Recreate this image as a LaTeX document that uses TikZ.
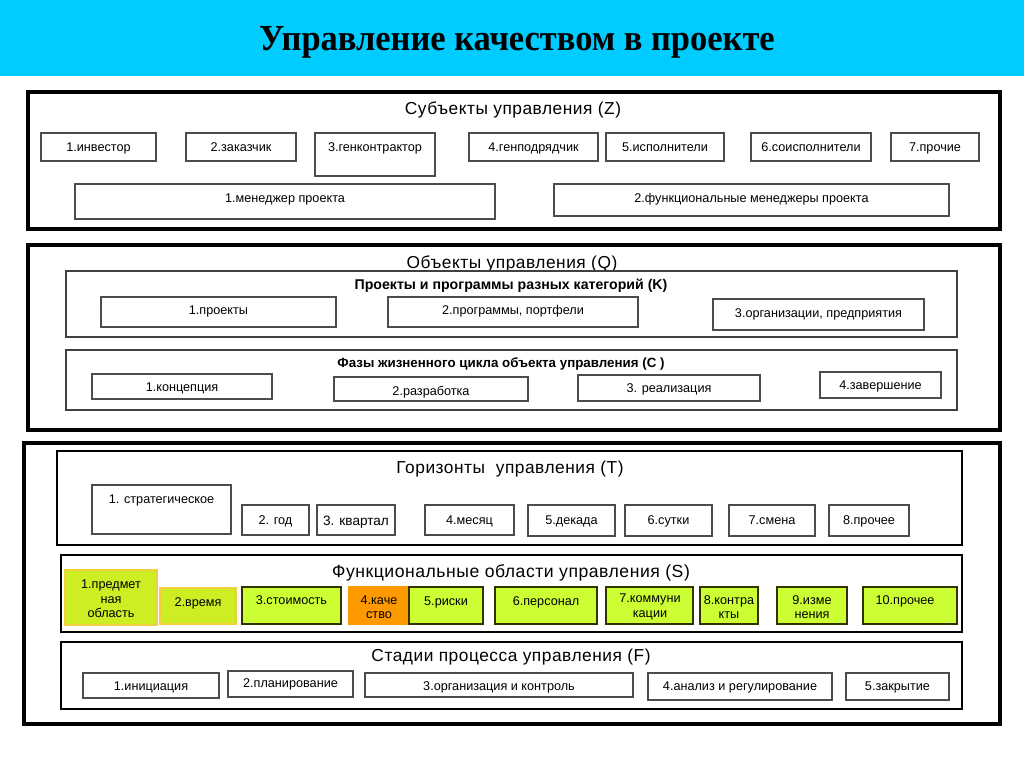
\documentclass[tikz,border=0pt]{standalone}
\usepackage{fontspec}
\setmainfont{Liberation Sans}
\newfontfamily\titlefont{Liberation Serif}
\newfontfamily\hdfont[LetterSpace=3]{Liberation Sans}
\usetikzlibrary{fit}
\definecolor{cyanbar}{HTML}{00CCFF}
\definecolor{limeA}{HTML}{CCFF33}
\definecolor{limeB}{HTML}{CCEE22}
\definecolor{limeBorder}{HTML}{333300}
\definecolor{yelBorder}{HTML}{F0D040}
\definecolor{orng}{HTML}{FF9900}
\tikzset{
  frame/.style={draw=black, line width=3pt, inner sep=0pt},
  midframe/.style={draw=black, line width=2.2pt, inner sep=0pt},
  thinframe/.style={draw=black!75, line width=0.9pt, inner sep=0pt},
  box/.style={draw=black!70, line width=0.9pt, inner sep=0pt, fill=white},
  gbox/.style={draw=limeBorder, line width=0.9pt, inner sep=0pt, fill=limeA},
  ybox/.style={draw=yelBorder, line width=0.9pt, inner sep=0pt, fill=limeB},
  obox/.style={draw=orng, line width=0.9pt, inner sep=0pt, fill=orng},
  lbl/.style={font=\fontsize{9.5}{10.9}\selectfont, anchor=base, inner sep=0pt, align=center},
  mlbl/.style={font=\fontsize{9.5}{10.9}\selectfont, anchor=center, inner sep=0pt, align=center},
  hd/.style={font=\hdfont\fontsize{13}{15}\selectfont, anchor=base, inner sep=0pt},
  subhd/.style={font=\bfseries\fontsize{10}{12}\selectfont, anchor=base, inner sep=0pt},
}
% name, x1, y1, x2, y2, text baseline y, text
\newcommand\bx[8][box]{%
  \node[#1, fit={(#3,#4)(#5,#6)}] (#2) {};
  \node[lbl] (#2-t) at ({(#3+#5)/2},#7) {#8};}
\begin{document}
\begin{tikzpicture}[x=0.75pt,y=-0.75pt]
\useasboundingbox (0,0) rectangle (1024,767);
\fill[white] (0,0) rectangle (1024,767);
\fill[cyanbar] (0,0) rectangle (1024,76);
\node[font=\titlefont\bfseries\fontsize{27.5}{30}\selectfont, anchor=base, inner sep=0pt] (title) at (517,51) {\scalebox{0.94}[1]{Управление качеством в проекте}};

% ---- Субъекты
\node[frame, fit={(28,92)(1000,229)}] (fZ) {};
\node[hd] (hZ) at (513,114) {Субъекты управления (Z)};
\bx{z1}{41}{133}{156}{161}{151}{1.инвестор}
\bx{z2}{186}{133}{296}{161}{151}{2.заказчик}
\bx{z3}{315}{133}{435}{176}{151}{3.генконтрактор}
\bx{z4}{469}{133}{598}{161}{151}{4.генподрядчик}
\bx{z5}{606}{133}{724}{161}{151}{5.исполнители}
\bx{z6}{751}{133}{871}{161}{151}{6.соисполнители}
\bx{z7}{891}{133}{979}{161}{151}{7.прочие}
\bx{m1}{75}{184}{495}{219}{202}{1.менеджер проекта}
\bx{m2}{554}{184}{949}{216}{202}{2.функциональные менеджеры проекта}

% ---- Объекты
\node[frame, fit={(28,245)(1000,430)}] (fQ) {};
\node[hd] (hQ) at (512,268) {Объекты управления (Q)};
\node[thinframe, fit={(66,271)(957,337)}] (fK) {};
\node[subhd, font=\bfseries\fontsize{10.6}{12}\selectfont] (hK) at (511,289) {Проекты и программы разных категорий (K)};
\bx{k1}{101}{297}{336}{327}{314}{1.проекты}
\bx{k2}{388}{297}{638}{327}{314}{2.программы, портфели}
\bx{k3}{713}{299}{924}{330}{317}{3.организации, предприятия}
\node[thinframe, fit={(66,350)(957,410)}] (fC) {};
\node[subhd] (hC) at (501,367) {Фазы жизненного цикла объекта управления (С )};
\bx{c1}{92}{374}{272}{399}{391}{1.концепция}
\bx{c2}{334}{377}{528}{401}{395}{2.разработка}
\bx{c3}{578}{375}{760}{401}{392}{3. реализация}
\bx{c4}{820}{372}{941}{398}{389}{4.завершение}

% ---- нижний блок
\node[frame, fit={(24,443)(1000,724)}] (fB) {};

% Горизонты
\node[midframe, fit={(57,451)(962,545)}] (fT) {};
\node[hd] (hT) at (510,473) {Горизонты\ \ управления (T)};
\bx{t1}{92}{485}{231}{534}{503}{1. стратегическое}
\bx{t2}{242}{505}{309}{535}{524}{2. год}
\node[box, fit={(317,505)(395,535)}] (t3) {};
\node[lbl, font=\fontsize{10.2}{11}\selectfont] (t3-t) at (356,525) {3. квартал};
\bx{t4}{425}{505}{514}{535}{524}{4.месяц}
\bx{t5}{528}{505}{615}{536}{524}{5.декада}
\bx{t6}{625}{505}{712}{536}{524}{6.сутки}
\bx{t7}{729}{505}{815}{536}{524}{7.смена}
\bx{t8}{829}{505}{909}{536}{524}{8.прочее}

% Функциональные области
\node[midframe, fit={(61,555)(962,632)}] (fS) {};
\node[hd, font=\hdfont\fontsize{13.2}{15}\selectfont] (hS) at (511,577) {Функциональные области управления (S)};
\node[ybox, fit={(65,570)(157,625)}] (s1) {};
\node[mlbl] (s1-t) at (111,599) {1.предмет\\ная\\область};
\bx[ybox]{s2}{160}{588}{236}{624}{606}{2.время}
\bx[gbox]{s3}{242}{587}{341}{624}{604}{3.стоимость}
\node[obox, fit={(349,587)(409,624)}] (s4) {};
\node[mlbl] (s4-t) at (379,607) {4.каче\\ство};
\bx[gbox]{s5}{409}{587}{483}{624}{605}{5.риски}
\bx[gbox]{s6}{495}{587}{597}{624}{605}{6.персонал}
\node[gbox, fit={(606,587)(693,624)}] (s7) {};
\node[mlbl] (s7-t) at (650,607) {7.коммуни\\кации};
\node[gbox, fit={(700,587)(758,624)}] (s8) {};
\node[mlbl] (s8-t) at (729,607) {8.контра\\кты};
\node[gbox, fit={(777,587)(847,624)}] (s9) {};
\node[mlbl] (s9-t) at (812,607) {9.изме\\нения};
\node[gbox, fit={(863,587)(957,624)}] (s10) {};
\node[lbl] (s10-t) at (905,604) {10.прочее};

% Стадии процесса
\node[midframe, fit={(61,642)(962,709)}] (fF) {};
\node[hd] (hF) at (511,661) {Стадии процесса управления (F)};
\bx{f1}{83}{673}{219}{698}{690}{1.инициация}
\bx{f2}{228}{671}{353}{697}{687}{2.планирование}
\bx{f3}{365}{673}{633}{697}{690}{3.организация и контроль}
\bx{f4}{648}{673}{832}{700}{690}{4.анализ и регулирование}
\bx{f5}{846}{673}{949}{700}{690}{5.закрытие}
\end{tikzpicture}
\end{document}
